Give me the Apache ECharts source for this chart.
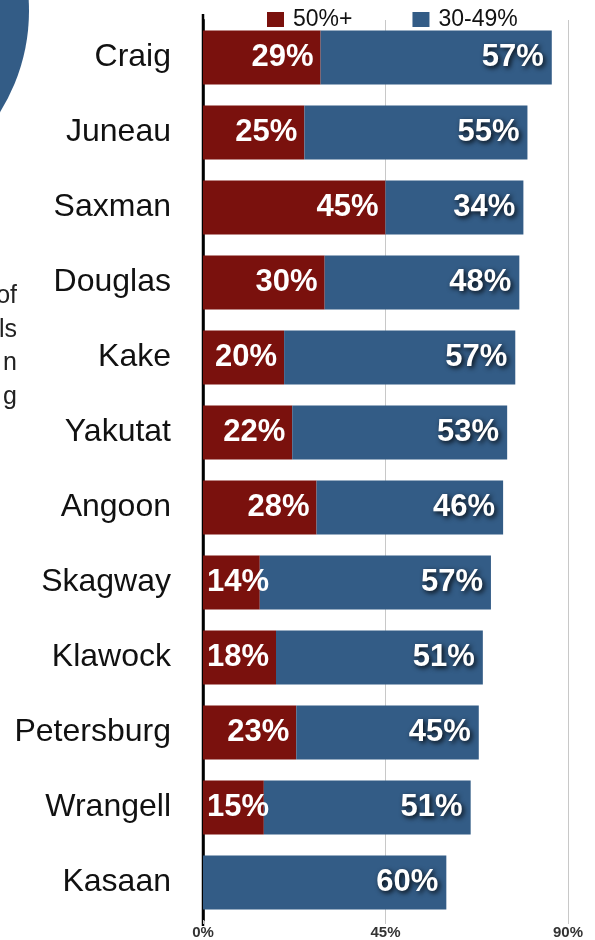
<!DOCTYPE html>
<html>
<head>
<meta charset="utf-8">
<script src="https://cdn.jsdelivr.net/npm/echarts@6/dist/echarts.min.js"></script>
<style>
  html, body { margin: 0; padding: 0; background: #fff; }
  #chart { width: 595px; height: 940px; }
</style>
</head>
<body>
<div id="chart"></div>
<script>
// Communities, listed top to bottom
const communities = ['Craig', 'Juneau', 'Saxman', 'Douglas', 'Kake', 'Yakutat',
  'Angoon', 'Skagway', 'Klawock', 'Petersburg', 'Wrangell', 'Kasaan'];
// Share of households in each cost-burden band (%)
const share50Plus = [29, 25, 45, 30, 20, 22, 28, 14, 18, 23, 15, 0];
const share30to49 = [57, 55, 34, 48, 57, 53, 46, 57, 51, 45, 51, 60];
const seriesNames = ['50%+', '30-49%'];
const axisTicks = [0, 45, 90];
// Partial side note lines at the page's left edge
const sideNote = ['of', 'ls', 'n', 'g'];

const RED = '#7a110d';
const BLUE = '#335c86';
const AXIS_MAX = 90;
const PLOT_LEFT = 203, PLOT_RIGHT = 27;
const pxPerUnit = (595 - PLOT_LEFT - PLOT_RIGHT) / AXIS_MAX;

const valueLabelFont = {
  color: '#fff', fontSize: 31, fontWeight: 'bold',
  fontFamily: 'Liberation Sans, Arial, sans-serif'
};

const redData = share50Plus.map(v => {
  const narrow = v * pxPerUnit < 70;
  return {
    value: v,
    label: {
      show: v > 0,
      position: narrow ? 'insideLeft' : 'insideRight',
      distance: narrow ? 4 : 7
    }
  };
});

const chart = echarts.init(document.getElementById('chart'), null, { renderer: 'canvas' });

chart.setOption({
  animation: false,
  backgroundColor: '#fff',
  legend: {
    top: 3,
    left: 262,
    itemWidth: 17,
    itemHeight: 15,
    itemGap: 60,
    icon: 'rect',
    textStyle: { fontSize: 23, color: '#111', fontFamily: 'Liberation Sans, Arial, sans-serif', padding: [0, 0, 0, 4] },
    data: seriesNames
  },
  grid: { left: PLOT_LEFT, right: PLOT_RIGHT, top: 20, bottom: 15, containLabel: false },
  xAxis: {
    type: 'value',
    min: 0,
    max: AXIS_MAX,
    interval: 45,
    axisLine: { show: false },
    axisTick: { show: true, length: 4, lineStyle: { color: '#c8c8c8' } },
    splitLine: { show: true, lineStyle: { color: '#c8c8c8', width: 1 } },
    axisLabel: {
      margin: 5,
      fontSize: 15,
      fontWeight: 'bold',
      color: '#333',
      fontFamily: 'Liberation Sans, Arial, sans-serif',
      formatter: v => axisTicks.includes(v) ? v + '%' : ''
    }
  },
  yAxis: {
    type: 'category',
    inverse: true,
    data: communities,
    axisLine: { show: true, lineStyle: { color: '#000', width: 2.5 } },
    axisTick: { show: false },
    axisLabel: {
      margin: 32,
      fontSize: 32,
      color: '#111',
      fontFamily: 'Liberation Sans, Arial, sans-serif'
    }
  },
  series: [
    {
      name: seriesNames[0],
      type: 'bar',
      stack: 'total',
      barWidth: 54,
      itemStyle: { color: RED },
      label: Object.assign({ show: true, formatter: p => p.value > 0 ? p.value + '%' : '' }, valueLabelFont),
      data: redData
    },
    {
      name: seriesNames[1],
      type: 'bar',
      stack: 'total',
      barWidth: 54,
      itemStyle: { color: BLUE },
      label: Object.assign({
        show: true,
        position: 'insideRight',
        distance: 8,
        formatter: '{c}%',
        textShadowColor: 'rgba(0,0,0,0.9)',
        textShadowBlur: 5,
        textShadowOffsetX: 2,
        textShadowOffsetY: 2
      }, valueLabelFont),
      data: share30to49
    }
  ],
  graphic: [
    {
      type: 'circle',
      shape: { cx: -162, cy: 11, r: 191 },
      style: { fill: BLUE },
      silent: true
    },
    {
      type: 'line',
      shape: { x1: PLOT_LEFT, y1: 14, x2: PLOT_LEFT, y2: 926 },
      style: { stroke: '#000', lineWidth: 2.5 },
      silent: true
    }
  ].concat(sideNote.map((t, i) => ({
    type: 'text',
    right: 595 - 17,
    top: 284 + i * 33.5,
    style: {
      text: t,
      fontSize: 25,
      fill: '#222',
      fontFamily: 'Liberation Sans, Arial, sans-serif',
      align: 'right'
    },
    silent: true
  })))
});
</script>
</body>
</html>
